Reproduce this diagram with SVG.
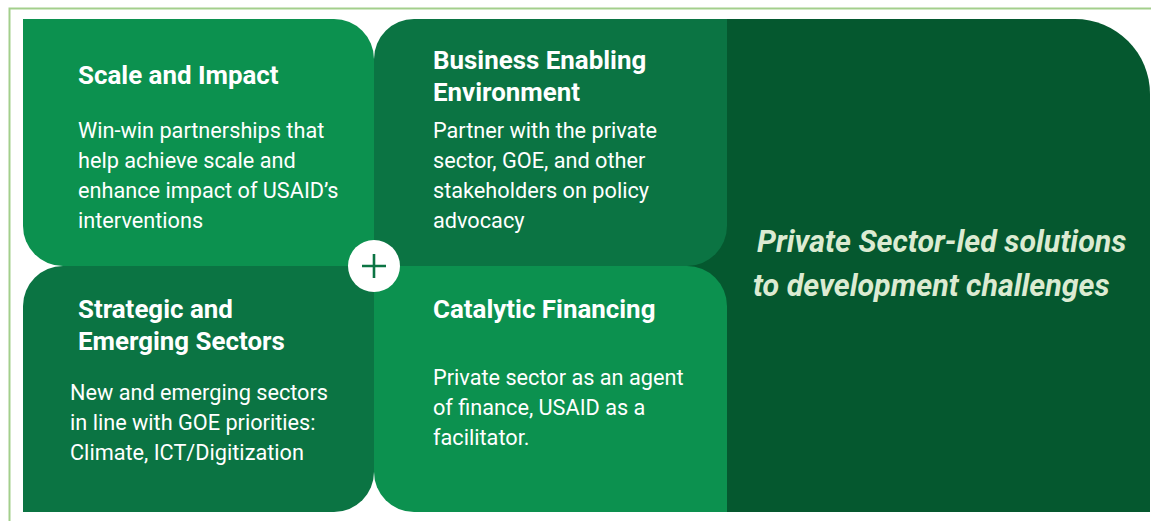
<svg xmlns="http://www.w3.org/2000/svg" width="1151" height="521" viewBox="0 0 1151 521">
<style>
.h{font-family:Roboto,"Liberation Sans",sans-serif;font-weight:700;font-size:25.9px;fill:#ffffff}
.b{font-family:Roboto,"Liberation Sans",sans-serif;font-weight:400;font-size:21.7px;fill:#ffffff}
.r{font-family:Roboto,"Liberation Sans",sans-serif;font-weight:700;font-style:italic;font-size:30.4px;fill:#dcebd2}
.g1{fill:#0c914f}
.g2{fill:#0b7443}
</style>
<rect x="9.5" y="8.5" width="1160" height="530" fill="#ffffff" stroke="#a3cf8c" stroke-width="2"/>
<g id="right-panel">
<path d="M687,19 H1075 A75,75 0 0 1 1150,94 V512 H687 Z" fill="#05582f"/>
<text class="r" x="757" y="252">Private Sector-led solutions</text>
<text class="r" x="753" y="296">to development challenges</text>
</g>
<g id="scale-impact">
<path class="g1" d="M23,19 H334 A40,40 0 0 1 374,59 V266 H63 A40,40 0 0 1 23,226 Z"/>
<text class="h" x="78" y="84">Scale and Impact</text>
<text class="b" x="78" y="138">Win-win partnerships that</text>
<text class="b" x="78" y="168">help achieve scale and</text>
<text class="b" x="78" y="198">enhance impact of USAID’s</text>
<text class="b" x="78" y="228">interventions</text>
</g>
<g id="business-enabling">
<path class="g2" d="M414,19 H727 V226 A40,40 0 0 1 687,266 H374 V59 A40,40 0 0 1 414,19 Z"/>
<text class="h" x="433" y="69">Business Enabling</text>
<text class="h" x="433" y="101">Environment</text>
<text class="b" x="433" y="138">Partner with the private</text>
<text class="b" x="433" y="168">sector, GOE, and other</text>
<text class="b" x="433" y="198">stakeholders on policy</text>
<text class="b" x="433" y="228">advocacy</text>
</g>
<g id="strategic-sectors">
<path class="g2" d="M63,266 H374 V472 A40,40 0 0 1 334,512 H23 V306 A40,40 0 0 1 63,266 Z"/>
<text class="h" x="78" y="318">Strategic and</text>
<text class="h" x="78" y="350">Emerging Sectors</text>
<text class="b" x="70" y="400">New and emerging sectors</text>
<text class="b" x="70" y="430">in line with GOE priorities:</text>
<text class="b" x="70" y="460">Climate, ICT/Digitization</text>
</g>
<g id="catalytic-financing">
<path class="g1" d="M374,266 H687 A40,40 0 0 1 727,306 V512 H414 A40,40 0 0 1 374,472 Z"/>
<text class="h" x="433" y="318">Catalytic Financing</text>
<text class="b" x="433" y="385">Private sector as an agent</text>
<text class="b" x="433" y="415">of finance, USAID as a</text>
<text class="b" x="433" y="445">facilitator.</text>
</g>
<g id="plus">
<circle cx="374" cy="266" r="26" fill="#ffffff"/>
<path d="M362,266 H386 M374,254 V278" stroke="#0b7443" stroke-width="2.6" fill="none"/>
</g>
</svg>
